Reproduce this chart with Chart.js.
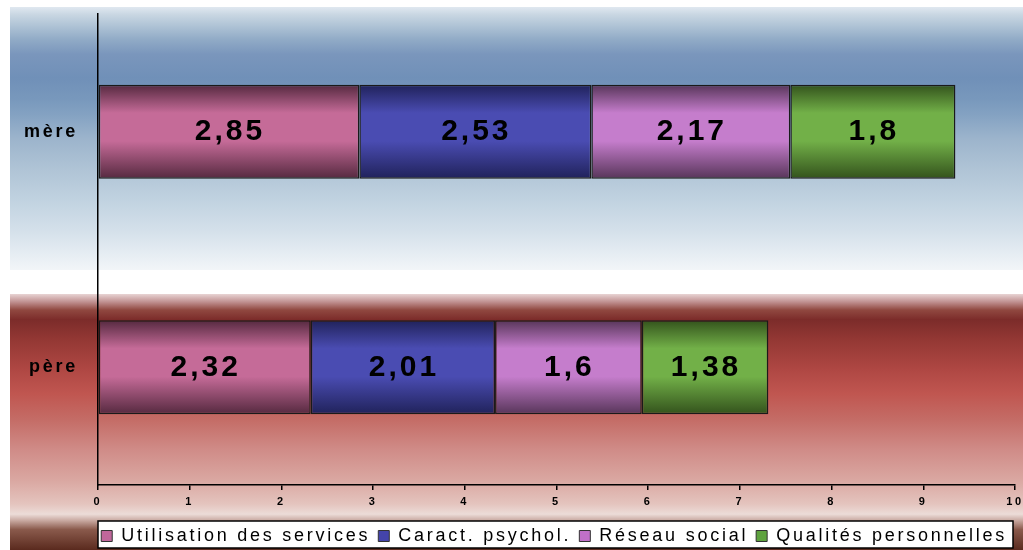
<!DOCTYPE html>
<html>
<head>
<meta charset="utf-8">
<script src="https://cdn.jsdelivr.net/npm/chart.js@4/dist/chart.umd.min.js"></script>
<style>
    body { margin: 0; background: #fff; }
    #wrap { width: 1023px; height: 550px; }
</style>
</head>
<body>
<div id="wrap"><canvas id="myChart" width="1023" height="550"></canvas></div>
<script>
let categories = ['mère', 'père'];
let seriesNames = ['Utilisation des services', 'Caract. psychol.', 'Réseau social', 'Qualités personnelles'];
let utilisation = [2.85, 2.32];
let caract = [2.53, 2.01];
let reseau = [2.17, 1.6];
let qualites = [1.8, 1.38];
let xTicks = [0, 1, 2, 3, 4, 5, 6, 7, 8, 9, 10];

// bright / dark shades for the bar shading, plain colour for legend swatches
let brightColors = ['#c56b98', '#4a4cb2', '#c57dcc', '#72b048'];
let darkColors = ['#55293f', '#20225a', '#573559', '#33521c'];
let swatchColors = ['#c0679b', '#4444aa', '#c070c8', '#5ea23e'];

const barShare = 0.4;
const spacing = '2.75px';

function barFill(i) {
    return function(ctx) {
        const chart = ctx.chart
        const area = chart.chartArea
        const y = chart.scales.y
        if (!area || !y || ctx.dataIndex === undefined) return brightColors[i]
        const center = y.getPixelForValue(ctx.dataIndex)
        const half = (area.height / categories.length) * barShare / 2
        const g = chart.ctx.createLinearGradient(0, center - half, 0, center + half)
        g.addColorStop(0, darkColors[i])
        g.addColorStop(0.3, brightColors[i])
        g.addColorStop(0.45, brightColors[i])
        g.addColorStop(0.6, brightColors[i])
        g.addColorStop(1, darkColors[i])
        return g
    }
}

// striped background bands behind the chart
const bgPlugin = {
    id: 'bands',
    beforeLayout(chart) {
        chart.ctx.letterSpacing = spacing
    },
    beforeDraw(chart) {
        const c = chart.ctx
        c.save()
        c.fillStyle = '#ffffff'
        c.fillRect(0, 0, chart.width, chart.height)

        let blue = c.createLinearGradient(0, 7, 0, 270)
        blue.addColorStop(0, '#e0e8f0')
        blue.addColorStop(0.03, '#c8d6e2')
        blue.addColorStop(0.07, '#b0c4d6')
        blue.addColorStop(0.125, '#90aac6')
        blue.addColorStop(0.18, '#7a96bc')
        blue.addColorStop(0.27, '#7090b8')
        blue.addColorStop(0.35, '#7898bc')
        blue.addColorStop(0.41, '#84a2c2')
        blue.addColorStop(0.5, '#9cb4cc')
        blue.addColorStop(0.62, '#b0c4d6')
        blue.addColorStop(0.73, '#c0d2e0')
        blue.addColorStop(0.85, '#d4e0ea')
        blue.addColorStop(0.94, '#e6edf3')
        blue.addColorStop(1, '#f2f5f8')
        c.fillStyle = blue
        c.fillRect(10, 7, chart.width - 10, 263)

        let red = c.createLinearGradient(0, 294, 0, 550)
        red.addColorStop(0, '#e8d4d4')
        red.addColorStop(0.031, '#c09090')
        red.addColorStop(0.0625, '#904840')
        red.addColorStop(0.1, '#7c2c2a')
        red.addColorStop(0.18, '#943834')
        red.addColorStop(0.3, '#b04844')
        red.addColorStop(0.39, '#c05650')
        red.addColorStop(0.49, '#c46c66')
        red.addColorStop(0.61, '#d08c88')
        red.addColorStop(0.73, '#daa8a2')
        red.addColorStop(0.82, '#e4c4be')
        red.addColorStop(0.86, '#ecdcd8')
        red.addColorStop(0.885, '#c8a8a0')
        red.addColorStop(0.92, '#8a5a4c')
        red.addColorStop(1, '#5a2a1e')
        c.fillStyle = red
        c.fillRect(10, 294, chart.width - 10, 256)

        // white legend frame
        const boxes = chart.legend.legendHitBoxes
        if (boxes && boxes.length) {
            let top = Math.min(...boxes.map(b => b.top)) - 6
            let bottom = Math.max(...boxes.map(b => b.top + b.height)) + 3
            const a = chart.chartArea
            c.fillStyle = '#ffffff'
            c.fillRect(a.left, top, a.right - a.left - 2, bottom - top)
            c.strokeStyle = '#000000'
            c.lineWidth = 1.5
            c.strokeRect(a.left, top, a.right - a.left - 2, bottom - top)
        }
        c.restore()
        c.letterSpacing = spacing
    }
}

// value written in the middle of each segment
const valuePlugin = {
    id: 'values',
    afterDatasetsDraw(chart) {
        const c = chart.ctx
        c.save()
        c.font = 'bold 30px "Liberation Sans", Arial, sans-serif'
        c.letterSpacing = '3px'
        c.fillStyle = '#000'
        c.textAlign = 'center'
        c.textBaseline = 'middle'
        chart.data.datasets.forEach((ds, i) => {
            const meta = chart.getDatasetMeta(i)
            meta.data.forEach((bar, j) => {
                const txt = String(ds.data[j]).replace('.', ',')
                c.fillText(txt, (bar.x + bar.base) / 2 + 1, bar.y)
            })
        })
        c.restore()
    }
}

let allValues = [utilisation, caract, reseau, qualites];

let chart1 = new Chart(document.getElementById('myChart').getContext('2d'), {
    type: 'bar',
    data: {
        labels: categories,
        datasets: allValues.map((vals, i) => ({
            label: seriesNames[i],
            data: vals,
            backgroundColor: barFill(i),
            borderColor: '#1a1a1a',
            borderWidth: 1.5,
            borderSkipped: false,
            categoryPercentage: 0.8,
            barPercentage: barShare / 0.8
        }))
    },
    options: {
        indexAxis: 'y',
        responsive: false,
        animation: false,
        devicePixelRatio: 1,
        layout: { padding: { top: 14, left: 10, right: 8, bottom: -5 } },
        font: { family: '"Liberation Sans", Arial, sans-serif' },
        scales: {
            x: {
                stacked: true,
                min: xTicks[0],
                max: xTicks[xTicks.length - 1],
                afterBuildTicks(scale) {
                    scale.ticks = xTicks.map(v => ({ value: v }))
                },
                afterFit(scale) {
                    scale.height = 34
                    scale.paddingRight = 0
                    scale.paddingLeft = 0
                },
                grid: { drawOnChartArea: false, drawTicks: true, tickLength: 5, color: '#000', lineWidth: 1.5 },
                border: { display: true, color: '#000', width: 1.5 },
                ticks: {
                    color: '#000',
                    padding: 5,
                    font: { family: '"Liberation Sans", Arial, sans-serif', size: 11, weight: 'bold' }
                }
            },
            y: {
                stacked: true,
                afterFit(scale) {
                    scale.width = 88
                    scale.paddingTop = 0
                    scale.paddingBottom = 0
                },
                grid: { drawOnChartArea: false, drawTicks: false },
                border: { display: true, color: '#000', width: 1.5 },
                ticks: {
                    color: '#000',
                    padding: 20,
                    font: { family: '"Liberation Sans", Arial, sans-serif', size: 18, weight: 'bold' }
                }
            }
        },
        plugins: {
            tooltip: { enabled: false },
            legend: {
                position: 'bottom',
                align: 'end',
                labels: {
                    color: '#000',
                    boxWidth: 11,
                    boxHeight: 11,
                    padding: 8,
                    font: { family: '"Liberation Sans", Arial, sans-serif', size: 18 },
                    generateLabels(chart) {
                        return seriesNames.map((name, i) => ({
                            text: name,
                            fillStyle: swatchColors[i],
                            strokeStyle: '#333',
                            lineWidth: 1,
                            datasetIndex: i
                        }))
                    }
                }
            }
        }
    },
    plugins: [bgPlugin, valuePlugin]
});
</script>
</body>
</html>
